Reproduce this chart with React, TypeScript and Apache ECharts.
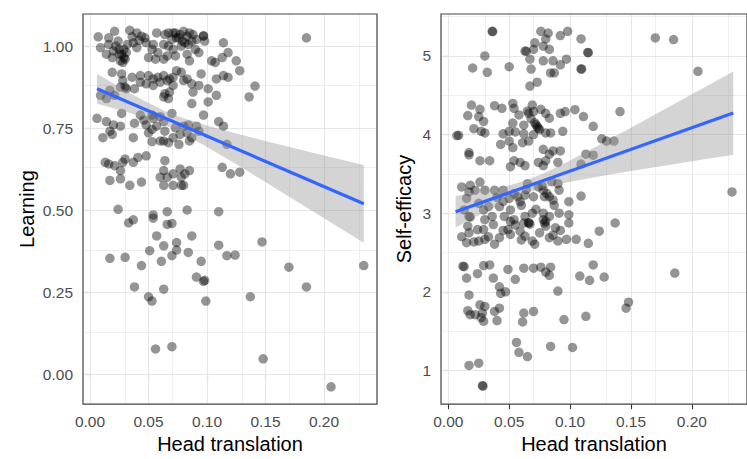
import React, { useEffect, useRef } from "react";
import * as echarts from "echarts";

// ---------- data ----------
const learningPoints: number[][] = [
  [0.007,1.028],[0.021,1.045],[0.034,1.048],[0.009,0.995],[0.016,1.005],[0.024,1.015],[0.029,0.990],[0.029,0.965],
  [0.026,0.955],[0.031,0.980],[0.040,1.040],[0.044,1.030],[0.048,1.010],[0.040,0.995],[0.037,1.010],[0.057,1.040],
  [0.064,1.035],[0.071,1.040],[0.077,1.035],[0.080,1.045],[0.070,1.020],[0.063,1.005],[0.054,1.005],[0.058,0.980],
  [0.050,0.965],[0.056,0.960],[0.063,0.960],[0.066,0.970],[0.074,1.025],[0.083,1.030],[0.084,1.005],[0.087,1.015],
  [0.091,1.020],[0.097,1.030],[0.098,1.015],[0.090,0.990],[0.093,0.980],[0.083,0.975],[0.078,1.000],[0.071,0.990],
  [0.073,0.970],[0.085,0.955],[0.104,0.955],[0.107,0.950],[0.114,1.010],[0.118,0.980],[0.113,0.965],[0.125,0.955],
  [0.128,0.925],[0.014,0.975],[0.019,0.965],[0.028,0.950],[0.020,0.985],[0.025,0.975],[0.032,1.005],[0.036,1.028],
  [0.042,1.017],[0.053,0.990],[0.067,1.000],[0.079,1.015],[0.088,1.035],[0.097,1.032],[0.067,1.040],[0.047,1.025],
  [0.016,1.025],[0.185,1.025],[0.027,0.975],[0.025,0.990],[0.030,0.960],[0.022,1.000],[0.076,1.025],[0.081,1.010],
  [0.073,1.040],[0.085,1.040],
  [0.019,0.920],[0.027,0.915],[0.028,0.895],[0.026,0.875],[0.030,0.875],[0.036,0.905],[0.038,0.870],[0.043,0.910],
  [0.043,0.890],[0.050,0.910],[0.054,0.900],[0.058,0.905],[0.063,0.910],[0.060,0.890],[0.066,0.895],[0.068,0.900],
  [0.071,0.880],[0.068,0.860],[0.064,0.855],[0.063,0.845],[0.067,0.840],[0.078,0.920],[0.080,0.895],[0.083,0.900],
  [0.087,0.885],[0.093,0.880],[0.095,0.915],[0.101,0.870],[0.108,0.850],[0.108,0.900],[0.114,0.910],[0.118,0.905],
  [0.141,0.878],[0.136,0.845],[0.088,0.860],[0.101,0.830],[0.087,0.825],[0.071,0.905],[0.054,0.880],[0.048,0.885],
  [0.074,0.925],[0.009,0.850],[0.014,0.840],[0.021,0.850],[0.031,0.870],[0.017,0.865],
  [0.006,0.780],[0.014,0.770],[0.020,0.760],[0.017,0.741],[0.011,0.721],[0.019,0.731],[0.026,0.756],[0.027,0.795],
  [0.038,0.765],[0.037,0.721],[0.046,0.775],[0.048,0.760],[0.050,0.736],[0.053,0.746],[0.054,0.780],[0.057,0.756],
  [0.060,0.785],[0.063,0.770],[0.064,0.741],[0.070,0.795],[0.073,0.751],[0.060,0.711],[0.063,0.711],[0.067,0.706],
  [0.053,0.709],[0.077,0.731],[0.080,0.756],[0.083,0.736],[0.087,0.721],[0.091,0.756],[0.093,0.741],[0.097,0.790],
  [0.084,0.760],[0.043,0.790],[0.053,0.790],[0.110,0.770],[0.114,0.756],[0.117,0.701],[0.076,0.701],[0.085,0.711],
  [0.071,0.721],
  [0.013,0.646],[0.016,0.641],[0.021,0.636],[0.026,0.621],[0.030,0.656],[0.028,0.646],[0.037,0.646],[0.041,0.661],
  [0.048,0.666],[0.064,0.651],[0.063,0.621],[0.060,0.601],[0.066,0.601],[0.071,0.611],[0.077,0.626],[0.085,0.621],
  [0.078,0.601],[0.080,0.576],[0.081,0.611],[0.017,0.591],[0.026,0.596],[0.034,0.576],[0.044,0.586],[0.063,0.576],
  [0.071,0.576],[0.078,0.576],[0.113,0.631],[0.120,0.611],[0.128,0.616],
  [0.024,0.503],[0.054,0.486],[0.066,0.496],[0.083,0.501],[0.110,0.496],
  [0.033,0.462],[0.037,0.471],[0.054,0.476],[0.066,0.457],[0.070,0.460],[0.057,0.422],[0.087,0.422],[0.074,0.402],
  [0.110,0.394],[0.147,0.404],[0.051,0.377],[0.063,0.392],[0.074,0.379],[0.084,0.372],[0.070,0.362],[0.017,0.354],
  [0.030,0.357],[0.044,0.332],[0.061,0.345],[0.095,0.345],[0.117,0.362],[0.124,0.364],[0.170,0.327],[0.234,0.332],
  [0.091,0.297],[0.097,0.284],[0.098,0.287],[0.038,0.267],[0.063,0.260],[0.050,0.237],[0.053,0.224],[0.137,0.237],
  [0.099,0.224],[0.185,0.267],[0.056,0.078],[0.070,0.085],[0.148,0.048],[0.206,-0.037]
];

const efficacyPoints: number[][] = [
  [0.036,5.313],[0.0365,5.31],[0.076,5.313],[0.082,5.292],[0.080,5.217],[0.092,5.259],[0.098,5.313],[0.109,5.217],
  [0.170,5.230],[0.185,5.209],[0.030,5.000],[0.020,4.847],[0.032,4.792],[0.050,4.863],[0.063,5.063],[0.064,5.06],
  [0.070,5.084],[0.071,5.167],[0.078,5.125],[0.083,5.084],[0.067,4.959],[0.068,4.834],[0.078,4.938],[0.086,4.938],
  [0.092,4.888],[0.097,4.959],[0.084,4.784],[0.087,4.784],[0.115,5.042],[0.1145,5.045],[0.109,4.834],[0.1095,4.835],
  [0.067,4.617],[0.073,4.667],[0.205,4.805],
  [0.007,3.988],[0.0085,3.99],[0.019,4.375],[0.026,4.321],[0.016,4.242],[0.025,4.229],[0.029,4.167],[0.021,4.075],
  [0.027,4.042],[0.030,4.021],[0.038,4.367],[0.044,4.334],[0.053,4.396],[0.054,4.334],[0.058,4.250],[0.069,4.375],
  [0.070,4.292],[0.076,4.321],[0.080,4.271],[0.083,4.209],[0.092,4.271],[0.096,4.292],[0.104,4.317],[0.111,4.229],
  [0.119,4.105],[0.141,4.292],[0.045,4.009],[0.050,4.042],[0.053,4.146],[0.055,4.034],[0.062,4.009],[0.061,3.896],
  [0.066,3.917],[0.070,4.000],[0.072,4.125],[0.075,4.063],[0.080,4.021],[0.084,4.021],[0.094,4.042],[0.043,3.875],
  [0.050,3.917],[0.053,3.834],[0.126,3.946],[0.130,3.917],[0.136,3.917],[0.017,3.771],[0.026,3.667],[0.034,3.667],
  [0.017,3.742],[0.078,3.813],[0.083,3.750],[0.080,3.667],[0.086,3.792],[0.092,3.792],[0.113,3.750],[0.119,3.738],
  [0.051,3.592],[0.054,3.667],[0.059,3.646],[0.063,3.605],[0.074,3.646],[0.078,3.605],[0.090,3.646],[0.109,3.625],
  [0.065,4.300],[0.066,4.270],[0.071,4.150],[0.073,4.100],[0.074,4.080],[0.068,4.200],[0.062,4.120],
  [0.011,3.334],[0.018,3.355],[0.026,3.396],[0.017,3.271],[0.022,3.292],[0.015,3.188],[0.030,3.292],[0.038,3.292],
  [0.045,3.292],[0.025,3.125],[0.033,3.084],[0.042,3.084],[0.050,3.188],[0.051,3.042],[0.057,3.209],[0.059,3.146],
  [0.065,3.375],[0.063,3.230],[0.070,3.209],[0.074,3.334],[0.078,3.292],[0.079,3.209],[0.083,3.209],[0.090,3.375],
  [0.091,3.292],[0.086,3.167],[0.099,3.146],[0.109,3.217],[0.013,3.042],[0.017,2.959],[0.029,3.042],[0.036,2.959],
  [0.046,2.959],[0.054,2.917],[0.063,2.959],[0.069,3.000],[0.078,3.000],[0.083,2.959],[0.091,3.000],[0.099,2.980],
  [0.137,2.875],[0.062,2.875],[0.079,2.875],[0.233,3.271],
  [0.054,3.250],[0.060,3.100],[0.081,3.250],[0.087,3.100],[0.072,3.050],[0.045,3.150],[0.064,3.300],[0.040,3.200],
  [0.077,3.350],[0.085,3.400],
  [0.018,2.950],[0.030,2.917],[0.037,2.855],[0.051,2.896],[0.066,2.875],[0.078,2.917],[0.080,2.834],[0.088,2.813],
  [0.099,2.875],[0.124,2.771],[0.016,2.834],[0.017,2.750],[0.011,2.700],[0.015,2.625],[0.021,2.634],[0.025,2.646],
  [0.030,2.667],[0.038,2.605],[0.042,2.688],[0.049,2.792],[0.051,2.730],[0.059,2.771],[0.063,2.709],[0.069,2.646],
  [0.071,2.605],[0.083,2.688],[0.090,2.646],[0.097,2.667],[0.105,2.667],[0.115,2.617],[0.024,2.792],[0.029,2.792],
  [0.033,2.700],[0.045,2.780],[0.055,2.850],[0.060,2.660],[0.066,2.880],[0.067,2.860],[0.086,2.720],[0.092,2.780],
  [0.080,2.900],[0.075,2.750],
  [0.012,2.325],[0.013,2.320],[0.015,2.175],[0.024,2.230],[0.029,2.334],[0.034,2.342],[0.037,2.175],[0.049,2.284],
  [0.055,2.159],[0.062,2.300],[0.070,2.300],[0.076,2.313],[0.080,2.250],[0.084,2.313],[0.083,2.209],[0.090,2.009],
  [0.108,2.200],[0.116,2.146],[0.119,2.342],[0.128,2.188],[0.186,2.238],[0.042,2.063],[0.043,1.980],[0.047,2.000],
  [0.017,1.959],[0.016,1.759],[0.018,1.709],[0.022,1.709],[0.026,1.834],[0.030,1.813],[0.029,1.625],[0.038,1.750],
  [0.040,1.634],[0.042,1.792],[0.062,1.730],[0.061,1.617],[0.070,1.750],[0.095,1.646],[0.113,1.688],[0.146,1.792],
  [0.148,1.867],[0.028,1.730],[0.027,1.670],
  [0.056,1.355],[0.058,1.230],[0.065,1.175],[0.084,1.305],[0.102,1.292],[0.017,1.063],[0.025,1.092],[0.028,0.805],
  [0.0285,0.800]
];

// fitted lines
const learningFit: number[][] = [[0.006, 0.870], [0.234, 0.520]];
const efficacyFit: number[][] = [[0.006, 3.018], [0.234, 4.273]];

// confidence bands
const bandX = [0.006, 0.03, 0.05, 0.065, 0.08, 0.1, 0.125, 0.15, 0.175, 0.2, 0.234];
const learningLo = [0.824, 0.801, 0.779, 0.758, 0.732, 0.693, 0.640, 0.586, 0.531, 0.476, 0.401];
const learningHi = [0.916, 0.865, 0.827, 0.801, 0.780, 0.758, 0.734, 0.711, 0.689, 0.667, 0.638];
const efficacyLo = [2.818, 3.015, 3.167, 3.262, 3.332, 3.400, 3.470, 3.535, 3.598, 3.660, 3.743];
const efficacyHi = [3.218, 3.285, 3.353, 3.424, 3.518, 3.670, 3.876, 4.087, 4.299, 4.512, 4.803];

// axes
const xRange = [-0.006, 0.2453];
const learningRange = [-0.0897, 1.0975];
const efficacyRange = [0.571, 5.534];
const xMajor = [0, 0.05, 0.1, 0.15, 0.2];
const xMinor = [0.025, 0.075, 0.125, 0.175, 0.225];
const learningMajor = [0, 0.25, 0.5, 0.75, 1.0];
const learningMinor = [0.125, 0.375, 0.625, 0.875];
const efficacyMajor = [1, 2, 3, 4, 5];
const efficacyMinor = [1.5, 2.5, 3.5, 4.5, 5.5];

const FONT = "'Liberation Sans', Arial, Helvetica, sans-serif";

function gridLines(xs: number[], ys: number[], width: number) {
  return [
    ...xs.map((v) => ({ xAxis: v, lineStyle: { width } })),
    ...ys.map((v) => ({ yAxis: v, lineStyle: { width } })),
  ];
}

function xAxisOpt(gridIndex: number) {
  return {
    type: "value",
    gridIndex,
    min: xRange[0],
    max: xRange[1],
    name: "Head translation",
    nameLocation: "middle",
    nameGap: 28,
    nameTextStyle: { fontFamily: FONT, fontSize: 20, color: "#000" },
    axisLine: { show: false },
    axisTick: { show: true, length: 5, customValues: xMajor, lineStyle: { color: "#333", width: 1.1 } },
    axisLabel: {
      customValues: xMajor,
      margin: 9,
      fontFamily: FONT,
      fontSize: 15.5,
      color: "#4d4d4d",
      formatter: (v: number) => v.toFixed(2),
    },
    splitLine: { show: false },
  };
}

function yAxisOpt(gridIndex: number, range: number[], major: number[], name: string, digits: number) {
  return {
    type: "value",
    gridIndex,
    min: range[0],
    max: range[1],
    name,
    nameLocation: "middle",
    nameGap: digits ? 46 : 27,
    nameTextStyle: { fontFamily: FONT, fontSize: 20, color: "#000" },
    axisLine: { show: false },
    axisTick: { show: true, length: 5, customValues: major, lineStyle: { color: "#333", width: 1.1 } },
    axisLabel: {
      customValues: major,
      margin: 10,
      fontFamily: FONT,
      fontSize: 15.5,
      color: "#4d4d4d",
      formatter: (v: number) => v.toFixed(digits),
    },
    splitLine: { show: false },
  };
}

function bandSeries(idx: number, lo: number[], hi: number[]) {
  return {
    type: "custom",
    xAxisIndex: idx,
    yAxisIndex: idx,
    silent: true,
    z: 3,
    data: bandX.map((x, i) => [x, lo[i], hi[i]]),
    encode: { x: 0, y: [1, 2] },
    renderItem: (params: any, api: any) => {
      if (params.dataIndex !== 0) return { type: "group", children: [] };
      const pts: number[][] = [];
      for (let i = 0; i < bandX.length; i++) pts.push(api.coord([bandX[i], hi[i]]));
      for (let i = bandX.length - 1; i >= 0; i--) pts.push(api.coord([bandX[i], lo[i]]));
      return {
        type: "polygon",
        shape: { points: pts },
        style: { fill: "rgba(153,153,153,0.42)", stroke: "none" },
      };
    },
  };
}

function scatterSeries(idx: number, pts: number[][], yMajor: number[], yMinor: number[]) {
  return {
    type: "scatter",
    xAxisIndex: idx,
    yAxisIndex: idx,
    data: pts,
    symbol: "circle",
    symbolSize: 9.5,
    z: 2,
    silent: true,
    itemStyle: { color: "rgba(0,0,0,0.52)" },
    markLine: {
      silent: true,
      symbol: "none",
      z: 1,
      animation: false,
      label: { show: false },
      lineStyle: { type: "solid", color: "#e6e6e6" },
      data: [...gridLines(xMajor, yMajor, 1.1), ...gridLines(xMinor, yMinor, 0.6)],
    },
  };
}

function fitSeries(idx: number, pts: number[][]) {
  return {
    type: "line",
    xAxisIndex: idx,
    yAxisIndex: idx,
    data: pts,
    showSymbol: false,
    symbol: "none",
    silent: true,
    z: 4,
    lineStyle: { color: "#3366FF", width: 3.2 },
  };
}

export default function App() {
  const ref = useRef<HTMLDivElement>(null);
  useEffect(() => {
    if (!ref.current) return;
    const chart = echarts.init(ref.current, undefined, { renderer: "svg" });
    chart.setOption({
      animation: false,
      backgroundColor: "#fff",
      grid: [
        { left: 83, top: 14, width: 294, height: 397, show: true, backgroundColor: "transparent", borderColor: "#444", borderWidth: 1.2, z: 5 },
        { left: 441, top: 14, width: 318, height: 397, show: true, backgroundColor: "transparent", borderColor: "#444", borderWidth: 1.2, z: 5 },
      ],
      xAxis: [xAxisOpt(0), xAxisOpt(1)],
      yAxis: [
        yAxisOpt(0, learningRange, learningMajor, "Learning", 2),
        yAxisOpt(1, efficacyRange, efficacyMajor, "Self-efficacy", 0),
      ],
      series: [
        scatterSeries(0, learningPoints, learningMajor, learningMinor),
        bandSeries(0, learningLo, learningHi),
        fitSeries(0, learningFit),
        scatterSeries(1, efficacyPoints, efficacyMajor, efficacyMinor),
        bandSeries(1, efficacyLo, efficacyHi),
        fitSeries(1, efficacyFit),
      ],
    });
    return () => chart.dispose();
  }, []);
  return (
    <div
      ref={ref}
      style={{ position: "absolute", left: 0, top: 0, width: 747, height: 459 }}
    />
  );
}
